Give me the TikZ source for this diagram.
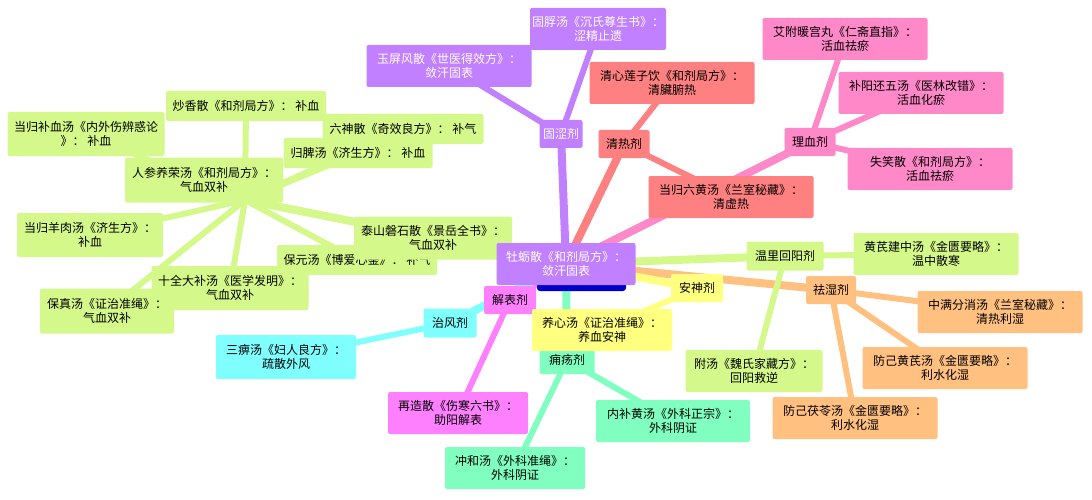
\documentclass[tikz,border=0pt]{standalone}
\usepackage{fontspec}
\setmainfont{Noto Sans CJK SC}
\definecolor{cPurple}{HTML}{C080FF}
\definecolor{cRed}{HTML}{FF8080}
\definecolor{cPink}{HTML}{FF88C8}
\definecolor{cGreen}{HTML}{D4F88A}
\definecolor{cOrange}{HTML}{FFC080}
\definecolor{cYellow}{HTML}{FFFF80}
\definecolor{cMint}{HTML}{80FFC0}
\definecolor{cCyan}{HTML}{80FFFF}
\definecolor{cMagenta}{HTML}{FF80FF}
\definecolor{cShade}{HTML}{C8B8F0}
\begin{document}
\begin{tikzpicture}[x=1pt, y=-1pt,
        topic/.style = {rectangle, rounded corners=2pt, inner sep=2pt,
            align=center, font=\fontsize{12}{14}\selectfont,
            append after command={[draw=cShade, line width=1.5pt]
                (\tikzlastnode.south west) -- (\tikzlastnode.south east)}},
        main/.style = {line width=8pt},
        sub/.style = {line width=6pt}
    ]
        \useasboundingbox (0,0) rectangle (1092,500);

        % Coordinates for the node centres.
        \coordinate (root) at (566,264);
        \coordinate (gs) at (561,134);
        \coordinate (gs1) at (449,66);
        \coordinate (gs2) at (598,29);
        \coordinate (qr) at (624,144);
        \coordinate (qr1) at (672,83);
        \coordinate (qr2) at (731,197);
        \coordinate (lx) at (810,142);
        \coordinate (lx1) at (845,39);
        \coordinate (lx2) at (921,93);
        \coordinate (lx3) at (930,169);
        \coordinate (wl) at (785,256);
        \coordinate (wl1) at (936,254);
        \coordinate (wl2) at (754,371);
        \coordinate (qs) at (831,290);
        \coordinate (qs1) at (1000,312);
        \coordinate (qs2) at (945,368);
        \coordinate (qs3) at (855,418);
        \coordinate (as) at (697,288);
        \coordinate (as1) at (602,330);
        \coordinate (yy) at (567,360);
        \coordinate (yy1) at (673,421);
        \coordinate (yy2) at (515,468);
        \coordinate (jb) at (510,300);
        \coordinate (jb1) at (458,413);
        \coordinate (zf) at (450,323);
        \coordinate (zf1) at (286,357);
        \coordinate (by) at (245,200);

        % Branches from the root.
        \draw[main, cPurple] (root) -- (gs);
        \draw[main, cRed] (root) -- (qr);
        \draw[main, cPink] (root) -- (lx);
        \draw[main, cGreen] (root) -- (wl);
        \draw[main, cOrange] (root) -- (qs);
        \draw[main, cYellow] (root) -- (as);
        \draw[main, cMint] (root) -- (yy);
        \draw[main, cMagenta] (root) -- (jb);
        \draw[main, cCyan] (root) -- (zf);
        \draw[main, cGreen] (root) -- (by);

        % Leaves of each branch.
        \foreach \p/\c/\l in {gs/cPurple/gs1, gs/cPurple/gs2, qr/cRed/qr1,
                qr/cRed/qr2, lx/cPink/lx1, lx/cPink/lx2, lx/cPink/lx3,
                wl/cGreen/wl1, wl/cGreen/wl2, qs/cOrange/qs1, qs/cOrange/qs2,
                qs/cOrange/qs3, as/cYellow/as1, yy/cMint/yy1, yy/cMint/yy2,
                jb/cMagenta/jb1, zf/cCyan/zf1}{%
            \draw[sub, \c] (\p) -- (\l);
        }
        \foreach \x/\y in {246/106, 86/134, 403/129, 358/153, 90/235,
                433/238, 357/260, 230/288, 107/311}{%
            \draw[sub, cGreen] (by) -- (\x,\y);
        }

        % Green leaves.
        \node[topic, fill=cGreen, minimum width=160pt, minimum height=30pt] (by2) at (246,106) {炒香散《和剂局方》： 补血};
        \node[topic, fill=cGreen, minimum width=157pt, minimum height=44pt] (by3) at (86,134) {当归补血汤《内外伤辨惑论\\》： 补血};
        \node[topic, fill=cGreen, minimum width=161pt, minimum height=30pt] (by4) at (403,129) {六神散《奇效良方》： 补气};
        \node[topic, fill=cGreen, minimum width=149pt, minimum height=30pt] (by5) at (358,153) {归脾汤《济生方》： 补血};
        \node[topic, fill=cGreen, minimum width=158pt, minimum height=45pt] (by1) at (204,180) {人参养荣汤《和剂局方》：\\气血双补};
        \node[topic, fill=cGreen, minimum width=146pt, minimum height=44pt] (by6) at (90,235) {当归羊肉汤《济生方》：\\补血};
        \node[topic, fill=cGreen, minimum width=160pt, minimum height=30pt] (by8) at (357,260) {保元汤《博爱心鉴》： 补气};
        \node[topic, fill=cGreen, minimum width=158pt, minimum height=43pt] (by7) at (433,238) {泰山磐石散《景岳全书》：\\气血双补};
        \node[topic, fill=cGreen, minimum width=157pt, minimum height=44pt] (by9) at (230,288) {十全大补汤《医学发明》：\\气血双补};
        \node[topic, fill=cGreen, minimum width=134pt, minimum height=45pt] (by10) at (107,311) {保真汤《证治准绳》：\\气血双补};

        % Branch topics.
        \node[topic, fill=cPurple, text=white, minimum width=43pt, minimum height=28pt] at (gs) {固涩剂};
        \node[topic, fill=cRed, minimum width=51pt, minimum height=28pt] at (qr) {清热剂};
        \node[topic, fill=cPink, minimum width=51pt, minimum height=28pt] at (lx) {理血剂};
        \node[topic, fill=cGreen, minimum width=77pt, minimum height=29pt] at (wl) {温里回阳剂};
        \node[topic, fill=cOrange, minimum width=50pt, minimum height=28pt] at (qs) {祛湿剂};
        \node[topic, fill=cMint, minimum width=55pt, minimum height=28pt] at (yy) {痈疡剂};
        \node[topic, fill=cMagenta, minimum width=52pt, minimum height=28pt] at (jb) {解表剂};
        \node[topic, fill=cCyan, minimum width=53pt, minimum height=29pt] at (zf) {治风剂};

        % Leaves of the other branches.
        \node[topic, fill=cPurple, text=white, minimum width=165pt, minimum height=42pt] at (gs1) {玉屏风散《世医得效方》：\\敛汗固表};
        \node[topic, fill=cPurple, text=white, minimum width=124pt, minimum height=42pt] at (gs2) {固脬汤《沉氏尊生书》：\\涩精止遗};
        \node[topic, fill=cRed, minimum width=165pt, minimum height=42pt] at (qr1) {清心莲子饮《和剂局方》：\\清臟腑热};
        \node[topic, fill=cRed, minimum width=165pt, minimum height=42pt] at (qr2) {当归六黄汤《兰室秘藏》：\\清虚热};
        \node[topic, fill=cPink, minimum width=165pt, minimum height=42pt] at (lx1) {艾附暖宫丸《仁斋直指》：\\活血祛瘀};
        \node[topic, fill=cPink, minimum width=165pt, minimum height=42pt] at (lx2) {补阳还五汤《医林改错》：\\活血化瘀};
        \node[topic, fill=cPink, minimum width=165pt, minimum height=42pt] at (lx3) {失笑散《和剂局方》：\\活血祛瘀};
        \node[topic, fill=cGreen, minimum width=165pt, minimum height=42pt] at (wl1) {黄芪建中汤《金匮要略》：\\温中散寒};
        \node[topic, fill=cGreen, minimum width=137pt, minimum height=42pt] at (wl2) {附汤《魏氏家藏方》：\\回阳救逆};
        \node[topic, fill=cOrange, minimum width=165pt, minimum height=42pt] at (qs1) {中满分消汤《兰室秘藏》：\\清热利湿};
        \node[topic, fill=cOrange, minimum width=165pt, minimum height=42pt] at (qs2) {防己黄芪汤《金匮要略》：\\利水化湿};
        \node[topic, fill=cOrange, minimum width=165pt, minimum height=42pt] at (qs3) {防己茯苓汤《金匮要略》：\\利水化湿};
        \node[topic, fill=cMint, minimum width=154pt, minimum height=42pt] at (yy1) {内补黄汤《外科正宗》：\\外科阴证};
        \node[topic, fill=cMint, minimum width=140pt, minimum height=42pt] at (yy2) {冲和汤《外科准绳》：\\外科阴证};
        \node[topic, fill=cMagenta, minimum width=140pt, minimum height=42pt] at (jb1) {再造散《伤寒六书》：\\助阳解表};
        \node[topic, fill=cCyan, minimum width=140pt, minimum height=44pt] at (zf1) {三痹汤《妇人良方》：\\疏散外风};

        % Root and the calm branch on top.
        \fill[blue!80!black, rounded corners=3pt] (537,282) rectangle (626,291);
        \node[topic, fill=cPurple, text=white, minimum width=139pt, minimum height=42pt] at (root) {牡蛎散《和剂局方》：\\敛汗固表};
        \node[topic, fill=cYellow, minimum width=140pt, minimum height=42pt] at (as1) {养心汤《证治准绳》：\\养血安神};
        \node[topic, fill=cYellow, minimum width=52pt, minimum height=28pt] at (as) {安神剂};
    \end{tikzpicture}
\end{document}
